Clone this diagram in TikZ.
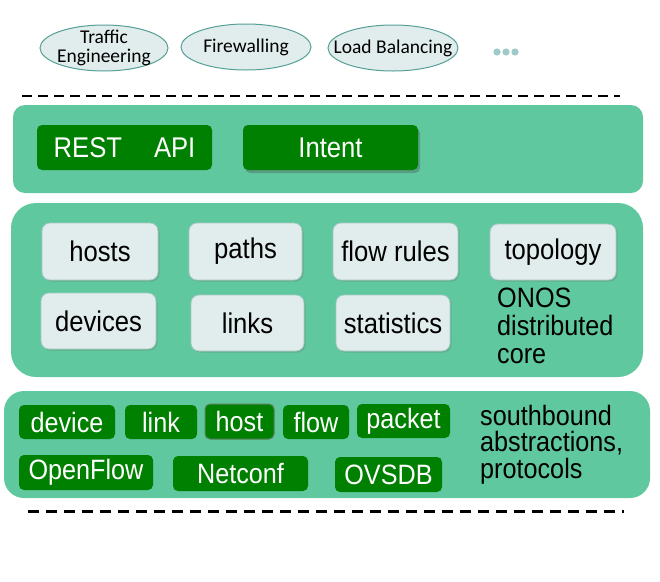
\documentclass[tikz,border=0pt]{standalone}
\usepackage{fontspec}
\setmainfont{Liberation Sans}
\newfontfamily\narrowsans[FakeStretch=0.9]{Liberation Sans}
\newfontfamily\calib{Carlito}
\usetikzlibrary{shapes.geometric,shadows}
\definecolor{panelc}{RGB}{95,200,158}
\definecolor{darkg}{RGB}{0,128,0}
\definecolor{lightb}{RGB}{225,237,236}
\definecolor{lightbd}{RGB}{170,200,195}
\definecolor{ellbd}{RGB}{85,160,150}
\definecolor{dotc}{RGB}{158,203,199}
\tikzset{
  app/.style={ellipse,draw=ellbd,fill=lightb,line width=1pt,inner sep=0pt},
  apptext/.style={font=\calib\fontsize{19.5}{19}\selectfont,align=center,inner sep=0pt},
  panel/.style={fill=panelc,draw=none},
  gbox/.style={rectangle,rounded corners=5pt,fill=darkg,draw=none,text=white,
    inner sep=0pt,font=\narrowsans\fontsize{28.5}{30}\selectfont},
  lbox/.style={rectangle,rounded corners=8pt,fill=lightb,draw=lightbd,line width=0.8pt,
    inner sep=0pt,font=\narrowsans\fontsize{28.5}{30}\selectfont,
    drop shadow={shadow xshift=1.5pt,shadow yshift=-1.5pt,opacity=0.25,fill=black!60}},
  sbox/.style={gbox,font=\narrowsans\fontsize{28}{30}\selectfont},
  note/.style={align=left,inner sep=0pt,anchor=north west},
  sep/.style={dash pattern=on 10pt off 6pt,line width=2pt}
}
\begin{document}
\begin{tikzpicture}[x=1pt,y=-1pt]
\useasboundingbox (0,0) rectangle (660,581);
% applications
\node[app,minimum width=128,minimum height=46] (te) at (104,48) {};
\node[apptext] (tet) at (te.center) {Traffic\\Engineering};
\node[app,minimum width=130,minimum height=46] (fw) at (246,47) {};
\node[apptext] (fwt) at (fw.center) {Firewalling};
\node[app,minimum width=130,minimum height=46] (lb) at (393,48) {};
\node[apptext] (lbt) at (lb.center) {Load Balancing};
\foreach \x in {497,506,515} \fill[dotc] (\x,52) circle (3.6);
% separators
\coordinate (s1a) at (22,96); \coordinate (s1b) at (620,96);
\draw[sep] (s1a) -- (s1b);
\coordinate (s2a) at (28,511); \coordinate (s2b) at (624,511);
\draw[sep,line width=3pt,dash pattern=on 11pt off 7pt] (s2a) -- (s2b);
% panels
\fill[panel,rounded corners=12pt] (13,105) rectangle (643,193);
\fill[panel,rounded corners=25pt] (11,203) rectangle (643,377);
\fill[panel,rounded corners=20pt] (4,391) rectangle (650,498);
% northbound
\node[gbox,minimum width=175,minimum height=45] (rest) at (124.5,147.5) {REST\hspace{32pt}API};
\node[gbox,minimum width=175,minimum height=45,
  drop shadow={shadow xshift=2pt,shadow yshift=-3pt,opacity=0.35,fill=black!70}] (intent) at (330.5,147.5) {Intent\hspace{16pt}};
% core
\node[lbox,minimum width=116,minimum height=57] (hosts) at (100,251.5) {hosts};
\node[lbox,minimum width=113,minimum height=57] (paths) at (245.5,251.5) {paths};
\node[lbox,minimum width=125,minimum height=57] (flowr) at (395.5,251.5) {flow rules};
\node[lbox,minimum width=126,minimum height=56] (topo) at (553,252) {topology};
\node[lbox,minimum width=115,minimum height=56] (devs) at (98.5,321) {devices};
\node[lbox,minimum width=113,minimum height=56] (links) at (247.5,323) {links};
\node[lbox,minimum width=114,minimum height=56] (stats) at (393,323) {statistics};
\node[note,font=\narrowsans\fontsize{28}{28}\selectfont] (onos) at (497,288) {ONOS\\distributed\\core};
% southbound
\node[sbox,minimum width=96,minimum height=34] (device) at (67,422) {device};
\node[sbox,minimum width=72,minimum height=34] (link) at (161,422) {link};
\node[sbox,minimum width=69,minimum height=35,draw=gray!70!darkg,line width=1pt] (host) at (239.5,421.5) {host};
\node[sbox,minimum width=66,minimum height=34] (flow) at (316,422) {flow};
\node[sbox,minimum width=93,minimum height=34] (packet) at (403.5,421) {packet};
\node[sbox,minimum width=134,minimum height=35] (of) at (86,472.5) {OpenFlow};
\node[sbox,minimum width=135,minimum height=35] (nc) at (240.5,473.5) {Netconf};
\node[sbox,minimum width=107,minimum height=35] (ovsdb) at (388.5,474.5) {OVSDB};
\node[note,font=\narrowsans\fontsize{28}{26.5}\selectfont] (sb) at (480,405) {southbound\\abstractions,\\protocols};
\end{tikzpicture}
\end{document}
